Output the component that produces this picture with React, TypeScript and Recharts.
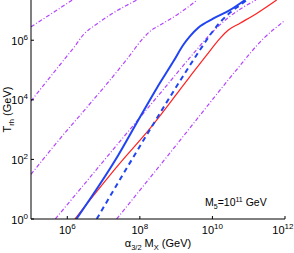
import React from 'react';
import { LineChart, Line, XAxis, YAxis, Label } from 'recharts';

const X_DOMAIN = [1e5, 1e12];
const Y_DOMAIN = [1, 2.24e7];
const xTicks = [1e6, 1e8, 1e10, 1e12];
const yTicks = [1, 1e2, 1e4, 1e6];

const blueSolid = [
  { x: 1.78e6, y: 1 }, { x: 2.51e7, y: 135 }, { x: 1.02e8, y: 2690 }, { x: 2.95e8, y: 2.51e4 },
  { x: 8.51e8, y: 2.0e5 }, { x: 1.58e9, y: 7.08e5 }, { x: 2.45e9, y: 1.41e6 }, { x: 4.07e9, y: 2.63e6 },
  { x: 1.07e10, y: 5.37e6 }, { x: 3.02e10, y: 1.02e7 }, { x: 7.94e10, y: 2.24e7 },
];
const blueDashed = [
  { x: 6.46e6, y: 1 }, { x: 9.12e7, y: 229 }, { x: 1.78e9, y: 8.13e4 }, { x: 4.57e9, y: 4.79e5 },
  { x: 9.55e9, y: 1.78e6 }, { x: 1.62e10, y: 3.98e6 }, { x: 3.02e10, y: 8.32e6 }, { x: 5.75e10, y: 1.51e7 },
  { x: 8.91e10, y: 2.24e7 },
];
const redSolid = [
  { x: 1.62e6, y: 1 }, { x: 2.51e7, y: 63.1 }, { x: 1.91e8, y: 1096 }, { x: 2.4e9, y: 6.03e4 },
  { x: 6.92e9, y: 3.16e5 }, { x: 1.62e10, y: 1.15e6 }, { x: 2.75e10, y: 2.19e6 }, { x: 5.75e10, y: 3.72e6 },
  { x: 1.66e11, y: 7.94e6 }, { x: 5.89e11, y: 2.24e7 },
];
const magenta1 = [
  { x: 1e5, y: 2.82e6 }, { x: 3.98e5, y: 8.32e6 }, { x: 1.38e6, y: 2.24e7 },
];
const magenta2 = [
  { x: 1e5, y: 9120 }, { x: 4.07e5, y: 7.76e4 }, { x: 9.55e5, y: 2.82e5 }, { x: 1.62e6, y: 6.31e5 },
  { x: 2.75e6, y: 1.51e6 }, { x: 3.98e6, y: 2.29e6 }, { x: 5.75e6, y: 3.16e6 }, { x: 1.51e7, y: 7.08e6 },
  { x: 8.32e7, y: 2.24e7 },
];
const magenta3 = [
  { x: 1e5, y: 31.6 }, { x: 3.72e5, y: 229 }, { x: 2.04e7, y: 7.24e4 }, { x: 4.37e7, y: 2.29e5 },
  { x: 1.26e8, y: 1.2e6 }, { x: 2.0e8, y: 2.09e6 }, { x: 3.63e8, y: 3.24e6 }, { x: 1.05e9, y: 7.08e6 },
  { x: 3.8e9, y: 2.24e7 },
];
const magenta4 = [
  { x: 4.68e5, y: 1 }, { x: 3.55e7, y: 562 }, { x: 4.47e8, y: 2.24e4 }, { x: 3.72e9, y: 4.9e5 },
  { x: 7.94e9, y: 1.41e6 }, { x: 1.41e10, y: 2.82e6 }, { x: 2.75e10, y: 5.75e6 }, { x: 1.58e11, y: 2.24e7 },
];
const magenta5 = [
  { x: 2.29e7, y: 1 }, { x: 9.33e8, y: 269 }, { x: 3.31e9, y: 1862 }, { x: 4.17e10, y: 8.71e4 },
  { x: 2.51e11, y: 1.12e6 }, { x: 8.91e11, y: 4.17e6 }, { x: 1e12, y: 4.68e6 },
];

const FONT = '"Liberation Sans", Arial, Helvetica, sans-serif';
const BLUE = '#2144f2';
const RED = '#ff1f1f';
const MAG = '#b444ff';

const expOf = (v: number) => String(Math.round(Math.log10(v)));

const XTickBottom = (props: any) => {
  const { x, y, payload } = props;
  const isLast = payload.value === xTicks[xTicks.length - 1];
  return (
    <g>
      <line x1={x} x2={x} y1={y} y2={y - 3} stroke="#000" />
      <text
        x={isLast ? x + 8.5 : x} y={y + 15} textAnchor={isLast ? 'end' : 'middle'}
        fontSize={11} fontFamily={FONT} fill="#000"
      >
        10<tspan dy={-5} fontSize={8}>{expOf(payload.value)}</tspan>
      </text>
    </g>
  );
};
const XTickTop = (props: any) => {
  const { x, y } = props;
  return <line x1={x} x2={x} y1={y} y2={y + 3} stroke="#000" />;
};
const YTickLeft = (props: any) => {
  const { x, y, payload } = props;
  return (
    <g>
      <line x1={x} x2={x + 3} y1={y} y2={y} stroke="#000" />
      <text x={x - 3} y={y + 4.5} textAnchor="end" fontSize={11} fontFamily={FONT} fill="#000">
        10<tspan dy={-5} fontSize={8}>{expOf(payload.value)}</tspan>
      </text>
    </g>
  );
};
const YTickRight = (props: any) => {
  const { x, y } = props;
  return <line x1={x} x2={x - 3} y1={y} y2={y} stroke="#000" />;
};

const XLabel = (props: any) => {
  const vb = props.viewBox || { x: 31, y: 219, width: 254 };
  const cx = vb.x + vb.width / 2;
  return (
    <text x={cx} y={vb.y + 28} textAnchor="middle" fontSize={11} fontFamily={FONT} fill="#000">
      α<tspan dy={3} fontSize={7.5}>3/2</tspan>
      <tspan dy={-3}> M</tspan>
      <tspan dy={3} fontSize={7.5}>X</tspan>
      <tspan dy={-3}> (GeV)</tspan>
    </text>
  );
};
const YLabel = (props: any) => {
  const vb = props.viewBox || { x: 0, y: 0, height: 219 };
  const cy = vb.y + vb.height / 2;
  const lx = 10.5;
  return (
    <text x={lx} y={cy} transform={`rotate(-90, ${lx}, ${cy})`} textAnchor="middle" fontSize={11} fontFamily={FONT} fill="#000">
      T<tspan dy={3} fontSize={7.5}>rh</tspan>
      <tspan dy={-3}> (GeV)</tspan>
    </text>
  );
};

const lineCommon = { dataKey: 'y', dot: false, isAnimationActive: false, type: 'monotone' as const, activeDot: false };

export default function App() {
  return (
    <div style={{ position: 'relative', width: 294, height: 253, background: '#fff' }}>
      <style>{'body{margin:0;background:#fff}'}</style>
      <LineChart width={294} height={253} margin={{ top: 0, right: 9, bottom: 0, left: 0 }}>
        <XAxis
          dataKey="x" type="number" scale="log" domain={X_DOMAIN} allowDataOverflow
          ticks={xTicks} interval={0} height={34} tickSize={0} tickMargin={0}
          tickLine={false} axisLine={{ stroke: '#000' }} tick={<XTickBottom />}
        >
          <Label content={<XLabel />} />
        </XAxis>
        <XAxis
          xAxisId="top" orientation="top" dataKey="x" type="number" scale="log" domain={X_DOMAIN} allowDataOverflow
          ticks={xTicks} interval={0} height={0} tickSize={0} tickMargin={0}
          tickLine={false} axisLine={{ stroke: '#000' }} tick={<XTickTop />}
        />
        <YAxis
          type="number" scale="log" domain={Y_DOMAIN} allowDataOverflow
          ticks={yTicks} interval={0} width={31} tickSize={0} tickMargin={0}
          tickLine={false} axisLine={{ stroke: '#000' }} tick={<YTickLeft />}
        >
          <Label content={<YLabel />} />
        </YAxis>
        <YAxis
          yAxisId="right" orientation="right" type="number" scale="log" domain={Y_DOMAIN} allowDataOverflow
          ticks={yTicks} interval={0} width={0} tickSize={0} tickMargin={0}
          tickLine={false} axisLine={{ stroke: '#000' }} tick={<YTickRight />}
        />
        <Line {...lineCommon} data={magenta1} stroke={MAG} strokeWidth={1.2} strokeDasharray="4 2 1 2" />
        <Line {...lineCommon} data={magenta2} stroke={MAG} strokeWidth={1.2} strokeDasharray="4 2 1 2" />
        <Line {...lineCommon} data={magenta3} stroke={MAG} strokeWidth={1.2} strokeDasharray="4 2 1 2" />
        <Line {...lineCommon} data={magenta4} stroke={MAG} strokeWidth={1.2} strokeDasharray="4 2 1 2" />
        <Line {...lineCommon} data={magenta5} stroke={MAG} strokeWidth={1.2} strokeDasharray="4 2 1 2" />
        <Line {...lineCommon} data={redSolid} stroke={RED} strokeWidth={1.2} />
        <Line {...lineCommon} data={blueDashed} stroke={BLUE} strokeWidth={2} strokeDasharray="5 4" />
        <Line {...lineCommon} data={blueSolid} stroke={BLUE} strokeWidth={2} />
      </LineChart>
      <svg width={294} height={253} style={{ position: 'absolute', left: 0, top: 0, pointerEvents: 'none' }}>
        <text x={205} y={206} fontSize={10.5} fontFamily={FONT} fill="#000">
          M<tspan dy={2.5} fontSize={7}>5</tspan>
          <tspan dy={-2.5}>=10</tspan>
          <tspan dy={-4.5} fontSize={7}>11</tspan>
          <tspan dy={4.5}> GeV</tspan>
        </text>
      </svg>
    </div>
  );
}
